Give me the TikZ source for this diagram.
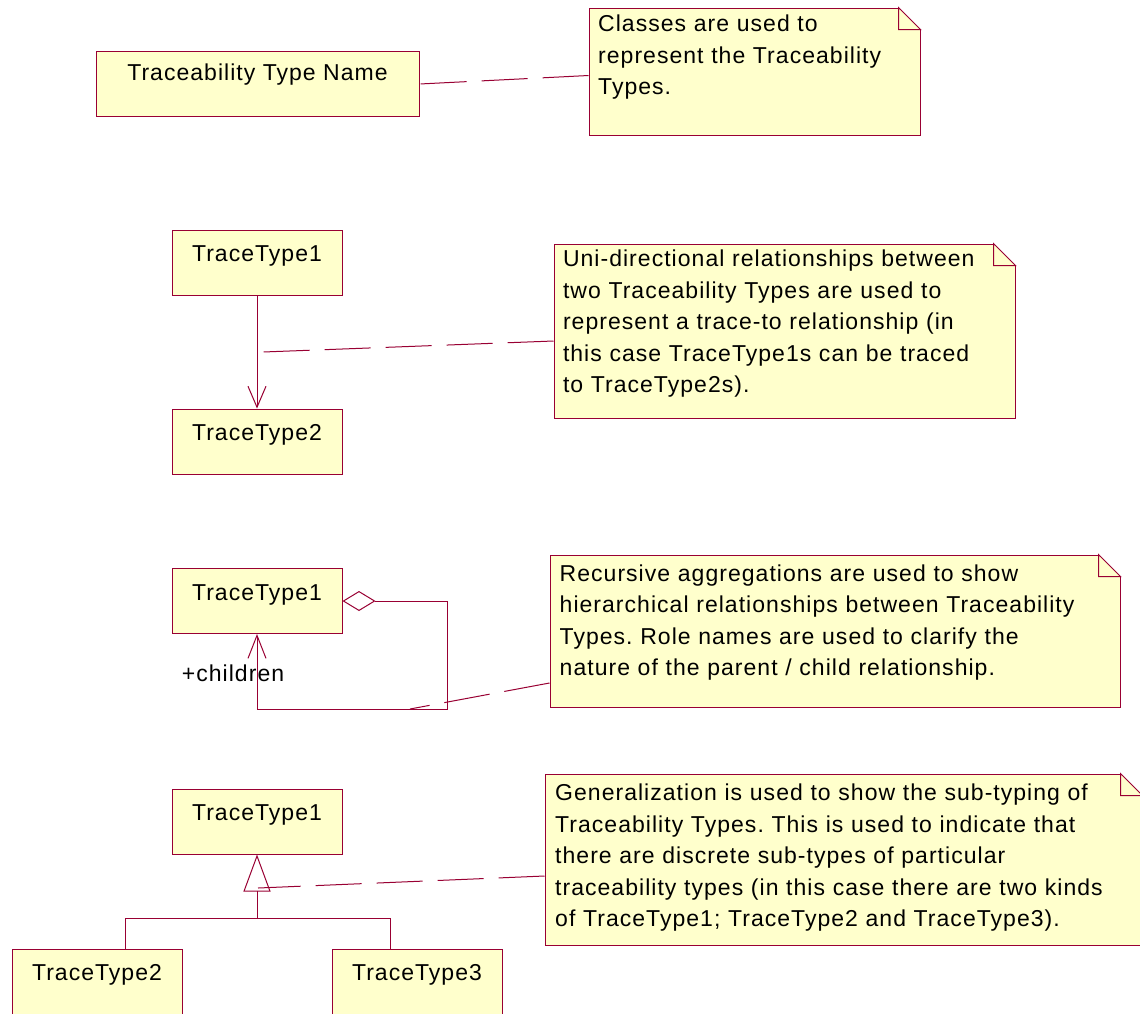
\documentclass[tikz,border=0pt]{standalone}
\usepackage{fontspec}
\setmainfont{Liberation Sans}[LetterSpace=4.5]
\usetikzlibrary{arrows.meta,calc}
\definecolor{roseline}{RGB}{153,0,51}
\definecolor{rosefill}{RGB}{255,255,204}
\frenchspacing
\begin{document}
\begin{tikzpicture}[x=1pt,y=-1pt,
	font=\fontsize{23}{31.5}\selectfont,
	every node/.style={inner sep=0pt},
	cls/.style={draw=roseline,fill=rosefill,line width=1pt,minimum width=170pt,
		text height=31.7pt,text depth=33.3pt},
	note/.style={draw=roseline,fill=rosefill,line width=1pt},
	notetext/.style={anchor=base west,align=left,text width=#1},
	link/.style={draw=roseline,line width=1pt},
	anchorline/.style={draw=roseline,line width=1pt,dash pattern=on 46pt off 15pt},
	navarrow/.style={-{Straight Barb[length=21pt,width=18pt]}},
	genarrow/.style={-{Triangle[open,length=37pt,width=27pt]}},
	aggarrow/.style={{Diamond[open,length=33pt,width=20pt]}-{Straight Barb[length=23pt,width=18pt]}}]
\path[use as bounding box,fill=white] (0,0) rectangle (1140,1013);

% classes
\node[cls,minimum width=323pt,text height=29pt,text depth=36pt] (c0) at (257.5,84) {Traceability Type Name};
\node[cls] (c1) at (257,262.5) {TraceType1};
\node[cls] (c2) at (257,441.5) {TraceType2};
\node[cls] (c3) at (257,601) {TraceType1};
\node[cls] (c4) at (257,821.5) {TraceType1};
\node[cls] (c5) at (97,981.5) {TraceType2};
\node[cls] (c6) at (417,981.5) {TraceType3};

% notes
\node[note,minimum width=331pt,minimum height=127pt] (n1) at (754.5,71.5) {};
\node[note,minimum width=461pt,minimum height=174pt] (n2) at (784.5,331) {};
\node[note,minimum width=570pt,minimum height=152pt] (n3) at (835,631) {};
\node[note,minimum width=597pt,minimum height=171pt] (n4) at (843.5,859.5) {};
\foreach \n in {n1,n2,n3,n4} {
	\fill[white] ($(\n.north east)+(-22,0)$) -- ++(0,-2) -- ($(\n.north east)+(2,-2)$)
		-- ($(\n.north east)+(2,22)$) -- ($(\n.north east)+(0,22)$) -- cycle;
	\draw[link] ($(\n.north east)+(-22,0)$) -- ($(\n.north east)+(0,22)$) -- ++(-22,0) -- cycle;
}
\node[notetext=320pt] (t1) at ($(n1.north west)+(9.5,24)$)
	{Classes are used to\\represent the Traceability\\Types.};
\node[notetext=450pt] (t2) at ($(n2.north west)+(9.3,23.3)$)
	{Uni-directional relationships between\\two Traceability Types are used to\\represent a trace-to relationship (in\\this case TraceType1s can be traced\\to TraceType2s).};
\node[notetext=560pt] (t3) at ($(n3.north west)+(10,26.7)$)
	{Recursive aggregations are used to show\\hierarchical relationships between Traceability\\Types. Role names are used to clarify the\\nature of the parent / child relationship.};
\node[notetext=585pt] (t4) at ($(n4.north west)+(10.5,27)$)
	{Generalization is used to show the sub-typing of\\Traceability Types. This is used to indicate that\\there are discrete sub-types of particular\\traceability types (in this case there are two kinds\\of TraceType1; TraceType2 and TraceType3).};

% relationships
\draw[link,navarrow] (c1.south) -- (c2.north);
\draw[link,aggarrow] (c3.east) -- ++(105,0) |- ([yshift=-75pt]c3.south) -- (c3.south);
\node[anchor=base west] (role) at (181.7,681.7) {+children};
\coordinate (fork) at (257,918);
\draw[link,genarrow] (fork) -- (c4.south);
\draw[link] ([xshift=28pt]c5.north) |- (fork) -| ([xshift=-27pt]c6.north);

% note anchors
\coordinate (nav) at ($($(c1.south)!0.5!(c2.north)$)+(6,0)$);
\coordinate (agg) at (410,709);
\coordinate (gen) at (258,888);
\draw[anchorline] ([yshift=-4pt]n1.west) -- (c0.east);
\draw[anchorline] ([yshift=-10pt]n2.west) -- (nav);
\draw[anchorline] ([yshift=-52pt]n3.west) -- (agg);
\draw[anchorline] ([yshift=-16.5pt]n4.west) -- (gen);
\end{tikzpicture}
\end{document}
